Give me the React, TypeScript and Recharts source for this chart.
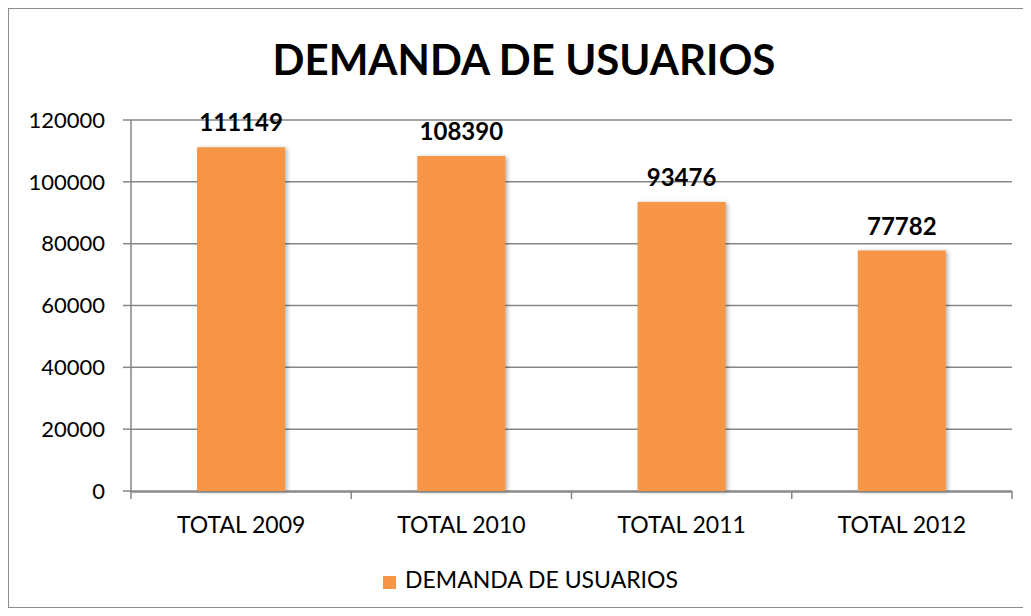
import { BarChart, Bar, XAxis, YAxis, CartesianGrid, Legend, LabelList } from 'recharts';

const categories = ['TOTAL 2009', 'TOTAL 2010', 'TOTAL 2011', 'TOTAL 2012'];
const demanda = [111149, 108390, 93476, 77782];
const yTicks = [0, 20000, 40000, 60000, 80000, 100000, 120000];
const boundaryTicks = [0, 1, 2, 3, 4];

const data = categories.map((name, i) => ({ name, demanda: demanda[i], idx: i + 0.5 }));

const FONT = 'Lato, "Open Sans", sans-serif';
const AXIS = '#868686';

export default function App() {
  return (
    <div
      style={{
        position: 'relative',
        width: 1014,
        height: 598,
        border: '1px solid #8c8c8c',
        background: '#fff',
        fontFamily: FONT,
      }}
    >
      <div
        style={{
          position: 'absolute',
          top: 25,
          left: 0,
          width: '100%',
          textAlign: 'center',
          fontSize: 42,
          fontWeight: 700,
          color: '#000',
          paddingLeft: 16,
          boxSizing: 'border-box',
        }}
      >
        DEMANDA DE USUARIOS
      </div>
      <BarChart
        width={1014}
        height={598}
        data={data}
        margin={{ top: 111, right: 11, left: 0, bottom: 10 }}
        barCategoryGap="30%"
      >
        <CartesianGrid vertical={false} stroke={AXIS} strokeWidth={1.5} />
        <XAxis
          xAxisId="bounds"
          type="number"
          dataKey="idx"
          domain={[0, 4]}
          ticks={boundaryTicks}
          tick={() => <g />}
          axisLine={false}
          tickLine={{ stroke: AXIS, strokeWidth: 1.5 }}
          tickSize={8}
          height={1}
        />
        <XAxis
          xAxisId="cat"
          dataKey="name"
          axisLine={{ stroke: AXIS, strokeWidth: 1.5 }}
          tickLine={false}
          tickSize={0}
          tickMargin={25}
          height={73}
          tick={{ fill: '#000', fontSize: 23, fontFamily: FONT }}
        />
        <YAxis
          width={122}
          domain={[0, 120000]}
          ticks={yTicks}
          axisLine={{ stroke: AXIS, strokeWidth: 1.5 }}
          tickLine={{ stroke: AXIS, strokeWidth: 1.5 }}
          tickSize={8}
          tickMargin={18}
          tick={{ fill: '#000', fontSize: 22, fontFamily: FONT }}
        />
        <Legend
          verticalAlign="bottom"
          iconType="square"
          iconSize={13}
          wrapperStyle={{ height: 32, fontSize: 23, fontFamily: FONT, paddingLeft: 50, boxSizing: 'border-box' }}
          formatter={(v) => <span style={{ color: '#000', marginLeft: 5 }}>{v}</span>}
        />
        <Bar
          xAxisId="cat"
          dataKey="demanda"
          name="DEMANDA DE USUARIOS"
          fill="#F79646"
          isAnimationActive={false}
          style={{ filter: 'drop-shadow(2px 1px 2px rgba(0,0,0,0.3))' }}
        >
          <LabelList
            dataKey="demanda"
            position="top"
            offset={16}
            style={{ fill: '#000', fontSize: 24, fontWeight: 700, fontFamily: FONT }}
          />
        </Bar>
      </BarChart>
    </div>
  );
}
